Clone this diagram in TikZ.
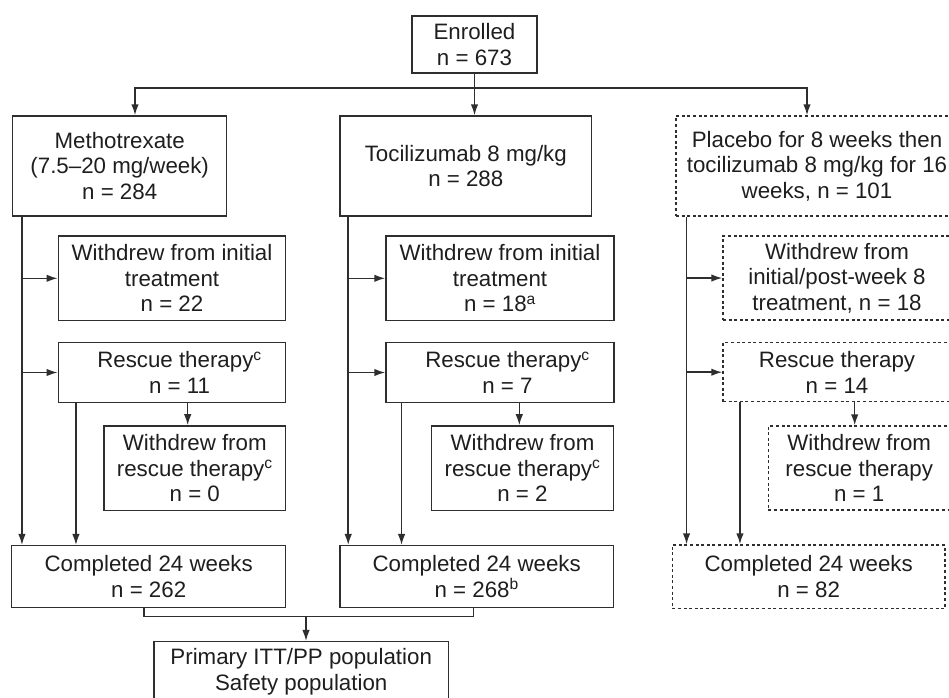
\documentclass[tikz,border=0pt]{standalone}
\usepackage{fontspec}
\setmainfont{Liberation Sans}
\usetikzlibrary{arrows.meta}
\definecolor{ln}{HTML}{2E2E2E}
\definecolor{tx}{HTML}{1E1E1E}
\newcommand\rsh{\hspace*{15pt}}
\begin{document}
\begin{tikzpicture}[x=1pt,y=-1pt,
  box/.style={draw=ln,line width=1.5pt,text=tx,align=center,inner sep=0pt,
    font=\fontsize{22.3}{25.5}\selectfont},
  dbox/.style={box,dash pattern=on 3pt off 2.6pt},
  arr/.style={draw=ln,line width=1.5pt,-{Latex[length=11pt,width=7.5pt]}},
  ln/.style={draw=ln,line width=1.5pt}]
\clip (0,0) rectangle (949,697);
% top
\node[box,minimum width=125pt,minimum height=57pt] (enr) at (474.5,44.5) {Enrolled\\n = 673};
\node[box,minimum width=214pt,minimum height=100pt] (mtx) at (119.7,166) {Methotrexate\\(7.5–20 mg/week)\\n = 284};
\node[box,minimum width=251.7pt,minimum height=100pt] (tcz) at (465.8,166) {Tocilizumab 8 mg/kg\\n = 288};
\node[dbox,minimum width=282pt,minimum height=100pt] (pbo) at (817,166) {Placebo for 8 weeks then\\tocilizumab 8 mg/kg for 16\\weeks, n = 101};
% methotrexate column
\node[box,minimum width=227.4pt,minimum height=84.7pt] (mwi) at (172,278.3) {Withdrew from initial\\treatment\\n = 22};
\node[box,minimum width=227.4pt,minimum height=59.6pt] (mre) at (172,372.5) {\rsh Rescue therapy\textsuperscript{c}\\\rsh n = 11};
\node[box,minimum width=181.7pt,minimum height=84.7pt] (mwr) at (194.8,468.3) {Withdrew from\\rescue therapy\textsuperscript{c}\\n = 0};
\node[box,minimum width=274pt,minimum height=62pt] (mco) at (148.7,576.7) {Completed 24 weeks\\n = 262};
% tocilizumab column
\node[box,minimum width=228pt,minimum height=84.7pt] (twi) at (500,278.3) {Withdrew from initial\\treatment\\n = 18\textsuperscript{a}};
\node[box,minimum width=228pt,minimum height=59.6pt] (tre) at (500,372.5) {\rsh Rescue therapy\textsuperscript{c}\\\rsh n = 7};
\node[box,minimum width=181.6pt,minimum height=84.7pt] (twr) at (522.5,468.3) {Withdrew from\\rescue therapy\textsuperscript{c}\\n = 2};
\node[box,minimum width=273.3pt,minimum height=62pt] (tco) at (476.7,576.7) {Completed 24 weeks\\n = 268\textsuperscript{b}};
% placebo column
\node[dbox,minimum width=228pt,minimum height=84pt] (pwi) at (837,278) {Withdrew from\\initial/post-week 8\\treatment, n = 18};
\node[dbox,minimum width=228pt,minimum height=59pt] (pre) at (837,372.2) {Rescue therapy\\n = 14};
\node[dbox,minimum width=181.7pt,minimum height=84pt] (pwr) at (859.2,468) {Withdrew from\\rescue therapy\\n = 1};
\node[dbox,minimum width=272.7pt,minimum height=63.3pt] (pco) at (808.7,576.7) {Completed 24 weeks\\n = 82};
% bottom
\node[box,minimum width=294.3pt,minimum height=60pt] (prim) at (301.2,671.7) {Primary ITT/PP population\\Safety population};

% enrolled split
\coordinate (split) at (enr.south |- 0,88);
\draw[arr] (enr.south) -- (enr.south |- tcz.north);
\draw[arr] (split) -| ([xshift=15.3pt]mtx.north);
\draw[arr] (split) -| ([xshift=-10pt]pbo.north);

% methotrexate flows
\coordinate (ma) at ([xshift=10pt]mtx.south west);
\draw[arr] (ma) -- (ma |- mco.north);
\draw[arr] (ma |- mwi.west) -- (mwi.west);
\draw[arr] (ma |- mre.west) -- (mre.west);
\coordinate (mb) at ([xshift=18.4pt]mre.south west);
\draw[arr] (mb) -- (mb |- mco.north);
\coordinate (mc) at ([xshift=15.7pt]mre.south);
\draw[arr] (mc) -- (mc |- mwr.north);

% tocilizumab flows
\coordinate (ta) at ([xshift=9pt]tcz.south west);
\draw[arr] (ta) -- (ta |- tco.north);
\draw[arr] (ta |- twi.west) -- (twi.west);
\draw[arr] (ta |- tre.west) -- (tre.west);
\coordinate (tb) at ([xshift=16.3pt]tre.south west);
\draw[arr] (tb) -- (tb |- tco.north);
\coordinate (tc) at ([xshift=19.3pt]tre.south);
\draw[arr] (tc) -- (tc |- twr.north);

% placebo flows
\coordinate (pa) at ([xshift=11.3pt]pbo.south west);
\draw[arr] (pa) -- (pa |- pco.north);
\draw[arr] (pa |- pwi.west) -- (pwi.west);
\draw[arr] (pa |- pre.west) -- (pre.west);
\coordinate (pb) at ([xshift=17.7pt]pre.south west);
\draw[arr] (pb) -- (pb |- pco.north);
\coordinate (pc) at ([xshift=17.7pt]pre.south);
\draw[arr] (pc) -- (pc |- pwr.north);

% merge to primary
\coordinate (ja) at ([xshift=-4.7pt]mco.south);
\coordinate (jb) at ([xshift=-3.4pt]tco.south);
\coordinate (jm) at (ja |- 0,616.7);
\draw[ln] (ja) -- (jm) -| (jb);
\coordinate (jc) at (306,616.7);
\draw[arr] (jc) -- (jc |- prim.north);
\end{tikzpicture}
\end{document}
